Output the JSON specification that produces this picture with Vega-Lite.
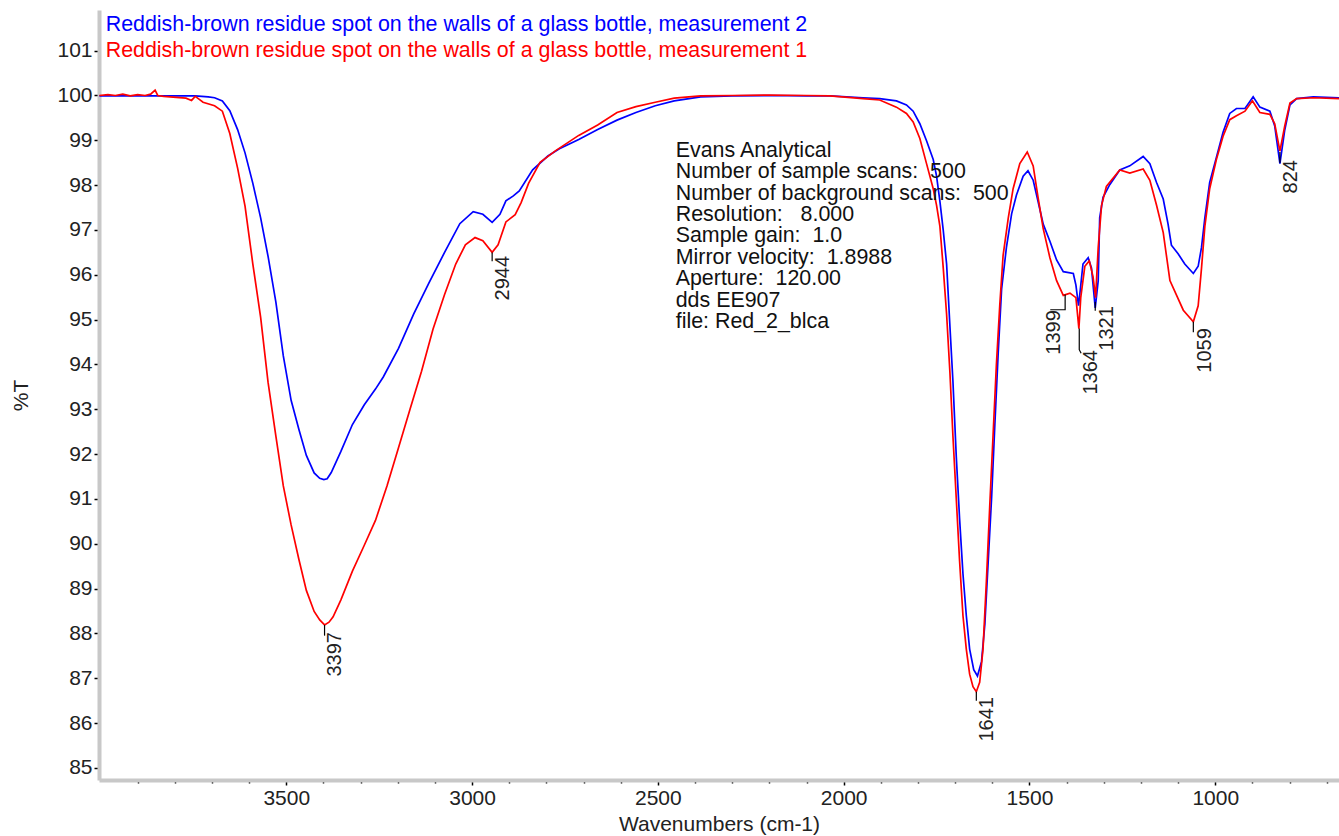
{
  "$schema": "https://vega.github.io/schema/vega-lite/v6.json",
  "width": 1240,
  "height": 770,
  "autosize": {"type": "none"},
  "padding": {"left": 99, "top": 10, "right": 0, "bottom": 56},
  "background": "white",
  "config": {"view": {"stroke": null}, "font": "Liberation Sans"},
  "datasets": {
    "m2": [
      {"w":4003,"T":99.99},{"w":3900,"T":99.99},{"w":3800,"T":99.99},{"w":3745,"T":99.99},{"w":3710,"T":99.97},{"w":3693,"T":99.95},{"w":3672,"T":99.88},{"w":3652,"T":99.66},{"w":3631,"T":99.24},{"w":3611,"T":98.72},{"w":3590,"T":98.04},{"w":3569,"T":97.27},{"w":3549,"T":96.41},{"w":3528,"T":95.39},{"w":3508,"T":94.19},{"w":3487,"T":93.2},{"w":3466,"T":92.55},{"w":3446,"T":91.97},{"w":3425,"T":91.58},{"w":3410,"T":91.46},{"w":3399,"T":91.43},{"w":3390,"T":91.45},{"w":3379,"T":91.59},{"w":3353,"T":92.06},{"w":3322,"T":92.66},{"w":3290,"T":93.1},{"w":3260,"T":93.45},{"w":3239,"T":93.72},{"w":3198,"T":94.36},{"w":3157,"T":95.13},{"w":3116,"T":95.82},{"w":3074,"T":96.5},{"w":3033,"T":97.14},{"w":2997,"T":97.41},{"w":2971,"T":97.35},{"w":2946,"T":97.17},{"w":2925,"T":97.35},{"w":2909,"T":97.65},{"w":2889,"T":97.76},{"w":2873,"T":97.87},{"w":2837,"T":98.34},{"w":2796,"T":98.65},{"w":2765,"T":98.81},{"w":2713,"T":99.02},{"w":2662,"T":99.24},{"w":2610,"T":99.45},{"w":2559,"T":99.62},{"w":2507,"T":99.77},{"w":2456,"T":99.88},{"w":2385,"T":99.97},{"w":2300,"T":99.99},{"w":2200,"T":100.0},{"w":2100,"T":99.99},{"w":2037,"T":99.99},{"w":1948,"T":99.95},{"w":1903,"T":99.93},{"w":1858,"T":99.88},{"w":1831,"T":99.79},{"w":1813,"T":99.65},{"w":1795,"T":99.37},{"w":1777,"T":98.99},{"w":1759,"T":98.57},{"w":1750,"T":98.2},{"w":1741,"T":97.64},{"w":1732,"T":96.99},{"w":1723,"T":96.24},{"w":1714,"T":94.84},{"w":1706,"T":93.63},{"w":1697,"T":91.95},{"w":1688,"T":90.55},{"w":1679,"T":89.33},{"w":1670,"T":88.4},{"w":1661,"T":87.65},{"w":1650,"T":87.19},{"w":1640,"T":87.05},{"w":1629,"T":87.37},{"w":1620,"T":88.21},{"w":1611,"T":89.61},{"w":1602,"T":91.01},{"w":1593,"T":92.69},{"w":1584,"T":94.28},{"w":1575,"T":95.68},{"w":1562,"T":96.61},{"w":1548,"T":97.36},{"w":1535,"T":97.78},{"w":1517,"T":98.2},{"w":1504,"T":98.32},{"w":1490,"T":98.11},{"w":1477,"T":97.64},{"w":1463,"T":97.13},{"w":1445,"T":96.75},{"w":1427,"T":96.33},{"w":1409,"T":96.07},{"w":1382,"T":96.03},{"w":1375,"T":95.77},{"w":1368,"T":95.31},{"w":1363,"T":95.68},{"w":1356,"T":96.24},{"w":1342,"T":96.38},{"w":1333,"T":96.15},{"w":1323,"T":95.26},{"w":1315,"T":95.87},{"w":1311,"T":97.27},{"w":1302,"T":97.73},{"w":1284,"T":98.01},{"w":1257,"T":98.34},{"w":1230,"T":98.43},{"w":1194,"T":98.64},{"w":1176,"T":98.48},{"w":1158,"T":98.06},{"w":1140,"T":97.69},{"w":1127,"T":97.13},{"w":1118,"T":96.66},{"w":1100,"T":96.47},{"w":1082,"T":96.24},{"w":1059,"T":96.03},{"w":1046,"T":96.19},{"w":1037,"T":96.61},{"w":1028,"T":97.27},{"w":1015,"T":98.06},{"w":997,"T":98.62},{"w":979,"T":99.18},{"w":961,"T":99.6},{"w":943,"T":99.71},{"w":920,"T":99.71},{"w":898,"T":99.97},{"w":880,"T":99.74},{"w":853,"T":99.65},{"w":840,"T":99.32},{"w":826,"T":98.48},{"w":813,"T":99.23},{"w":799,"T":99.79},{"w":781,"T":99.93},{"w":736,"T":99.97},{"w":667,"T":99.95}
    ],
    "m1": [
      {"w":4003,"T":100.0},{"w":3980,"T":100.02},{"w":3960,"T":100.0},{"w":3940,"T":100.03},{"w":3920,"T":99.99},{"w":3900,"T":100.02},{"w":3880,"T":100.0},{"w":3865,"T":100.03},{"w":3853,"T":100.12},{"w":3846,"T":100.0},{"w":3830,"T":99.98},{"w":3796,"T":99.96},{"w":3770,"T":99.94},{"w":3755,"T":99.89},{"w":3745,"T":99.98},{"w":3735,"T":99.92},{"w":3724,"T":99.85},{"w":3693,"T":99.77},{"w":3672,"T":99.65},{"w":3652,"T":99.15},{"w":3631,"T":98.38},{"w":3611,"T":97.53},{"w":3590,"T":96.24},{"w":3569,"T":95.05},{"w":3549,"T":93.6},{"w":3528,"T":92.4},{"w":3508,"T":91.29},{"w":3487,"T":90.42},{"w":3466,"T":89.65},{"w":3446,"T":88.96},{"w":3425,"T":88.49},{"w":3410,"T":88.3},{"w":3397,"T":88.19},{"w":3385,"T":88.25},{"w":3374,"T":88.37},{"w":3353,"T":88.75},{"w":3322,"T":89.39},{"w":3291,"T":89.95},{"w":3260,"T":90.52},{"w":3229,"T":91.29},{"w":3198,"T":92.14},{"w":3167,"T":93.0},{"w":3136,"T":93.85},{"w":3105,"T":94.79},{"w":3074,"T":95.56},{"w":3044,"T":96.24},{"w":3018,"T":96.67},{"w":2992,"T":96.83},{"w":2971,"T":96.76},{"w":2946,"T":96.5},{"w":2930,"T":96.67},{"w":2909,"T":97.18},{"w":2884,"T":97.34},{"w":2868,"T":97.61},{"w":2848,"T":98.04},{"w":2817,"T":98.51},{"w":2775,"T":98.77},{"w":2713,"T":99.11},{"w":2662,"T":99.34},{"w":2610,"T":99.62},{"w":2559,"T":99.75},{"w":2507,"T":99.85},{"w":2456,"T":99.94},{"w":2385,"T":99.99},{"w":2300,"T":100.0},{"w":2200,"T":100.01},{"w":2100,"T":100.0},{"w":2037,"T":99.99},{"w":1948,"T":99.93},{"w":1903,"T":99.9},{"w":1858,"T":99.74},{"w":1831,"T":99.6},{"w":1813,"T":99.41},{"w":1795,"T":99.04},{"w":1777,"T":98.48},{"w":1759,"T":97.92},{"w":1750,"T":97.55},{"w":1741,"T":97.08},{"w":1732,"T":96.15},{"w":1723,"T":95.12},{"w":1714,"T":93.81},{"w":1706,"T":92.41},{"w":1697,"T":91.01},{"w":1688,"T":89.61},{"w":1679,"T":88.4},{"w":1670,"T":87.65},{"w":1661,"T":87.09},{"w":1652,"T":86.81},{"w":1643,"T":86.7},{"w":1634,"T":86.91},{"w":1625,"T":87.65},{"w":1616,"T":89.15},{"w":1607,"T":90.82},{"w":1598,"T":92.41},{"w":1589,"T":94.0},{"w":1580,"T":95.31},{"w":1571,"T":96.43},{"w":1557,"T":97.27},{"w":1544,"T":97.92},{"w":1526,"T":98.48},{"w":1506,"T":98.74},{"w":1490,"T":98.43},{"w":1477,"T":97.73},{"w":1463,"T":97.03},{"w":1445,"T":96.38},{"w":1427,"T":95.87},{"w":1409,"T":95.54},{"w":1391,"T":95.59},{"w":1375,"T":95.49},{"w":1367,"T":94.8},{"w":1362,"T":95.49},{"w":1351,"T":96.19},{"w":1339,"T":96.31},{"w":1329,"T":95.96},{"w":1322,"T":95.49},{"w":1315,"T":96.61},{"w":1306,"T":97.55},{"w":1293,"T":97.97},{"w":1257,"T":98.34},{"w":1230,"T":98.27},{"w":1194,"T":98.36},{"w":1176,"T":98.11},{"w":1158,"T":97.55},{"w":1140,"T":96.94},{"w":1122,"T":95.87},{"w":1104,"T":95.54},{"w":1086,"T":95.21},{"w":1059,"T":94.95},{"w":1046,"T":95.31},{"w":1037,"T":96.15},{"w":1028,"T":97.08},{"w":1015,"T":97.92},{"w":997,"T":98.57},{"w":979,"T":99.09},{"w":961,"T":99.46},{"w":943,"T":99.55},{"w":920,"T":99.65},{"w":900,"T":99.88},{"w":880,"T":99.62},{"w":853,"T":99.58},{"w":840,"T":99.37},{"w":826,"T":98.76},{"w":813,"T":99.32},{"w":799,"T":99.83},{"w":781,"T":99.93},{"w":736,"T":99.95},{"w":667,"T":99.93}
    ],
    "peaks": [
      {"label":"3397","w":3397,"T":88.03},
      {"label":"2944","w":2944,"T":96.42},
      {"label":"1641","w":1641,"T":86.58},
      {"label":"1399","w":1461,"T":95.21},
      {"label":"1364","w":1362,"T":94.32},
      {"label":"1321","w":1319,"T":95.3},
      {"label":"1059","w":1055,"T":94.81},
      {"label":"824","w":823,"T":98.56}
    ],
    "leaders": [
      {"id":1,"k":0,"w":3397,"T":88.19},{"id":1,"k":1,"w":3397,"T":87.95},
      {"id":2,"k":0,"w":2946,"T":96.5},{"id":2,"k":1,"w":2946,"T":96.3},
      {"id":3,"k":0,"w":1643,"T":86.7},{"id":3,"k":1,"w":1643,"T":86.5},
      {"id":4,"k":0,"w":1404,"T":95.56},{"id":4,"k":1,"w":1404,"T":95.22},{"id":4,"k":2,"w":1444,"T":95.22},
      {"id":5,"k":0,"w":1366,"T":94.8},{"id":5,"k":1,"w":1366,"T":94.33},{"id":5,"k":2,"w":1361,"T":94.25},
      {"id":6,"k":0,"w":1323,"T":95.4},{"id":6,"k":1,"w":1323,"T":95.2},
      {"id":7,"k":0,"w":1059,"T":94.95},{"id":7,"k":1,"w":1059,"T":94.72},
      {"id":8,"k":0,"w":826,"T":98.74},{"id":8,"k":1,"w":826,"T":98.5}
    ],
    "legend": [
      {"text":"Reddish-brown residue spot on the walls of a glass bottle, measurement 2","s":"2","w":3986,"T":101.44},
      {"text":"Reddish-brown residue spot on the walls of a glass bottle, measurement 1","s":"1","w":3986,"T":100.85}
    ],
    "info": [
      {"text":"Evans Analytical\nNumber of sample scans: \u00a0500\nNumber of background scans: \u00a0500\nResolution: \u00a0\u00a08.000\nSample gain: \u00a01.0\nMirror velocity: \u00a01.8988\nAperture: \u00a0120.00\ndds EE907\nfile: Red_2_blca","w":2452,"T":98.635}
    ]
  },
  "encoding": {
    "x": {
      "field": "w", "type": "quantitative",
      "scale": {"domain": [667, 4004], "reverse": true, "nice": false, "zero": false},
      "axis": {
        "title": "Wavenumbers (cm-1)",
        "values": [700,800,900,1000,1100,1200,1300,1400,1500,1600,1700,1800,1900,2000,2100,2200,2300,2400,2500,2600,2700,2800,2900,3000,3100,3200,3300,3400,3500,3600,3700,3800,3900],
        "format": "d",
        "labelExpr": "datum.value % 500 == 0 ? datum.label : ''",
        "grid": false,
        "domainColor": "#c8c8c8", "domainWidth": 4,
        "tickColor": "#000000", "tickWidth": 1.5,
        "tickSize": {"condition": {"test": "datum.value % 500 == 0", "value": 5}, "value": 3},
        "labelPadding": 2, "labelFontSize": 21, "labelColor": "#222222", "labelFont": "Liberation Sans",
        "labelFlush": false, "labelOverlap": false,
        "titleFontSize": 21, "titleFontWeight": "normal", "titleColor": "#222222", "titleFont": "Liberation Sans",
        "titlePadding": 5
      }
    },
    "y": {
      "field": "T", "type": "quantitative",
      "scale": {"domain": [84.73, 101.907], "nice": false, "zero": false},
      "axis": {
        "title": "%T",
        "values": [85,85.25,85.5,85.75,86,86.25,86.5,86.75,87,87.25,87.5,87.75,88,88.25,88.5,88.75,89,89.25,89.5,89.75,90,90.25,90.5,90.75,91,91.25,91.5,91.75,92,92.25,92.5,92.75,93,93.25,93.5,93.75,94,94.25,94.5,94.75,95,95.25,95.5,95.75,96,96.25,96.5,96.75,97,97.25,97.5,97.75,98,98.25,98.5,98.75,99,99.25,99.5,99.75,100,100.25,100.5,100.75,101,101.25,101.5,101.75],
        "format": "d",
        "labelExpr": "datum.value % 1 == 0 ? datum.label : ''",
        "grid": false,
        "domainColor": "#c8c8c8", "domainWidth": 4,
        "tickColor": "#000000", "tickWidth": 1.5,
        "tickSize": {"condition": {"test": "datum.value % 1 == 0", "value": 5}, "value": 3},
        "labelPadding": 2, "labelFontSize": 21, "labelColor": "#222222", "labelFont": "Liberation Sans",
        "labelFlush": false, "labelOverlap": false,
        "titleFontSize": 21, "titleFontWeight": "normal", "titleColor": "#222222", "titleFont": "Liberation Sans",
        "titlePadding": 25
      }
    }
  },
  "layer": [
    {"data": {"name": "m2"}, "mark": {"type": "line", "color": "#0000ff", "strokeWidth": 1.7}},
    {"data": {"name": "m1"}, "mark": {"type": "line", "color": "#ff0000", "strokeWidth": 1.7}},
    {"data": {"name": "leaders"}, "mark": {"type": "line", "color": "#000000", "strokeWidth": 1.2},
     "encoding": {"detail": {"field": "id", "type": "nominal"}, "order": {"field": "k", "type": "quantitative"}}},
    {"data": {"name": "peaks"}, "mark": {"type": "text", "angle": 270, "align": "right", "baseline": "top", "fontSize": 20, "color": "#222222", "font": "Liberation Sans"},
     "encoding": {"text": {"field": "label", "type": "nominal"}}},
    {"data": {"name": "legend"}, "mark": {"type": "text", "align": "left", "baseline": "alphabetic", "fontSize": 21.4, "font": "Liberation Sans"},
     "encoding": {"text": {"field": "text", "type": "nominal"},
       "color": {"field": "s", "type": "nominal", "scale": {"domain": ["2", "1"], "range": ["#0000ff", "#ff0000"]}, "legend": null}}},
    {"data": {"name": "info"}, "mark": {"type": "text", "align": "left", "baseline": "alphabetic", "fontSize": 21.4, "lineBreak": "\n", "lineHeight": 21.45, "color": "#111111", "font": "Liberation Sans"},
     "encoding": {"text": {"field": "text", "type": "nominal"}}}
  ]
}
